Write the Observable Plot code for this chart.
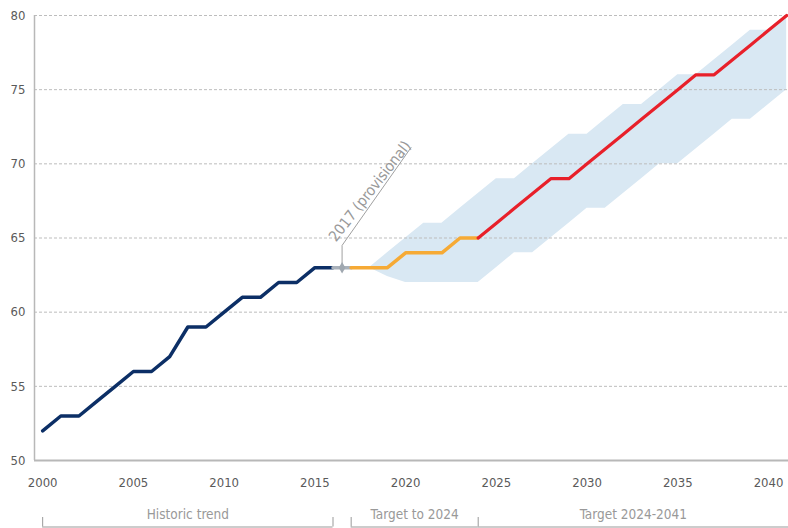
<!DOCTYPE html>
<html>
<head>
<meta charset="utf-8">
<script src="https://cdn.jsdelivr.net/npm/d3@7"></script>
<script src="https://cdn.jsdelivr.net/npm/@observablehq/plot@0.6"></script>
<style>
  html, body { margin: 0; padding: 0; background: #fff; }
  svg { display: block; }
</style>
</head>
<body>
<div id="chart"></div>
<script>
// ---- data ----
const historicYears = [2000,2001,2002,2003,2004,2005,2006,2007,2008,2009,2010,2011,2012,2013,2014,2015,2016];
const historicValues = [52,53,53,54,55,56,56,57,59,59,60,61,61,62,62,63,63];

const provisionalYears = [2016, 2017];
const provisionalValues = [63, 63];
const provisionalMarkerYear = [2016.5];
const provisionalMarkerValue = [63];
const provisionalLabel = "2017 (provisional)";
const leaderYears = [2016.5, 2016.5, 2020.3];
const leaderValues = [63, 64.5, 71.1];

const target2024Years = [2017,2018,2019,2020,2021,2022,2023,2024];
const target2024Values = [63,63,63,64,64,64,65,65];

const target2041Years = [2024,2025,2026,2027,2028,2029,2030,2031,2032,2033,2034,2035,2036,2037,2038,2039,2040,2041];
const target2041Values = [65,66,67,68,69,69,70,71,72,73,74,75,76,76,77,78,79,80];

const bandYears = [2018,2019,2020,2021,2022,2023,2024,2025,2026,2027,2028,2029,2030,2031,2032,2033,2034,2035,2036,2037,2038,2039,2040,2041];
const bandLow   = [63,62.4,62,62,62,62,62,63,64,64,65,66,67,67,68,69,70,70,71,72,73,73,74,75];
const bandHigh  = [63,64,65,66,66,67,68,69,69,70,71,72,72,73,74,74,75,76,76,77,78,79,79,80];

const yTicks = [50,55,60,65,70,75,80];
const gridTicks = [55,60,65,70,75,80];
const xTicks = [2000,2005,2010,2015,2020,2025,2030,2035,2040];

const bracketLabels = ["Historic trend", "Target to 2024", "Target 2024-2041"];
const bracketStart = [2000, 2017, 2024];
const bracketEnd = [2016, 2024, 2041.1];
const bracketTicks = [2000, 2016, 2017, 2024];

// ---- build tables ----
const zip = (xs, ys) => xs.map((x, i) => ({x, y: ys[i]}));
const historic = zip(historicYears, historicValues);
const provisional = zip(provisionalYears, provisionalValues);
const marker = zip(provisionalMarkerYear, provisionalMarkerValue);
const leader = zip(leaderYears, leaderValues);
const t2024 = zip(target2024Years, target2024Values);
const t2041 = zip(target2041Years, target2041Values);
const band = bandYears.map((x, i) => ({x, lo: bandLow[i], hi: bandHigh[i]}));
const brackets = bracketLabels.map((label, i) => ({label, x1: bracketStart[i], x2: bracketEnd[i], mid: (bracketStart[i] + bracketEnd[i]) / 2}));

const FONT = "'Liberation Sans Narrow', 'DejaVu Sans Condensed', 'Roboto Condensed', 'Liberation Sans', sans-serif";
const xDomain = [1999.55, 2041.1];

const main = Plot.plot({
  width: 788,
  height: 498,
  marginTop: 15,
  marginBottom: 38,
  marginLeft: 34,
  marginRight: 0,
  style: {fontFamily: FONT, fontSize: "13px", color: "#5a5a5a", background: "#fff"},
  x: {domain: xDomain, ticks: xTicks, tickFormat: "d", tickSize: 0, tickPadding: 17, label: null},
  y: {domain: [50, 80], ticks: yTicks, tickSize: 0, tickPadding: 9, label: null},
  marks: [
    Plot.areaY(band, {x: "x", y1: "lo", y2: "hi", fill: "#d9e8f3", curve: "linear"}),
    Plot.ruleY(gridTicks, {stroke: "#bdbdbd", strokeDasharray: "3,2", strokeWidth: 1}),
    Plot.ruleX([xDomain[0]], {y1: 50, y2: 80, stroke: "#b8b8b8", strokeWidth: 1.5}),
    Plot.ruleY([50], {stroke: "#b8b8b8", strokeWidth: 2}),
    Plot.line(historic, {x: "x", y: "y", stroke: "#0c2f66", strokeWidth: 3.5}),
    Plot.line(provisional, {x: "x", y: "y", stroke: "#a9b1ba", strokeWidth: 3.5}),
    Plot.line(t2024, {x: "x", y: "y", stroke: "#f6aa35", strokeWidth: 3.5}),
    Plot.line(t2041, {x: "x", y: "y", stroke: "#e8202a", strokeWidth: 3.2}),
    Plot.line(leader, {x: "x", y: "y", stroke: "#a0a0a0", strokeWidth: 1}),
    Plot.dot(marker, {x: "x", y: "y", r: 3.5, fill: "#a0a8b0", symbol: "diamond"}),
    Plot.text([provisionalLabel], {
      x: provisionalMarkerYear[0], y: leaderValues[1], text: d => d,
      rotate: -52, textAnchor: "start", lineAnchor: "bottom",
      dx: -6, dy: -3, fill: "#999", fontSize: 15
    })
  ]
});

const bracketPlot = Plot.plot({
  width: 788,
  height: 30,
  marginTop: 0,
  marginBottom: 0,
  marginLeft: 34,
  marginRight: 0,
  style: {fontFamily: FONT, fontSize: "13.5px", background: "#fff"},
  x: {domain: xDomain, axis: null},
  y: {domain: [0, 1], range: [28.5, 19], axis: null},
  marks: [
    Plot.ruleY(brackets, {x1: "x1", x2: "x2", y: 0, stroke: "#999", strokeWidth: 1}),
    Plot.ruleX(bracketTicks, {x: d => d, y1: 0, y2: 1, stroke: "#999", strokeWidth: 1}),
    Plot.text(brackets, {x: "mid", y: 1, text: "label", dy: -3, fill: "#999"})
  ]
});

const root = document.getElementById("chart");
root.appendChild(main);
root.appendChild(bracketPlot);
</script>
</body>
</html>
